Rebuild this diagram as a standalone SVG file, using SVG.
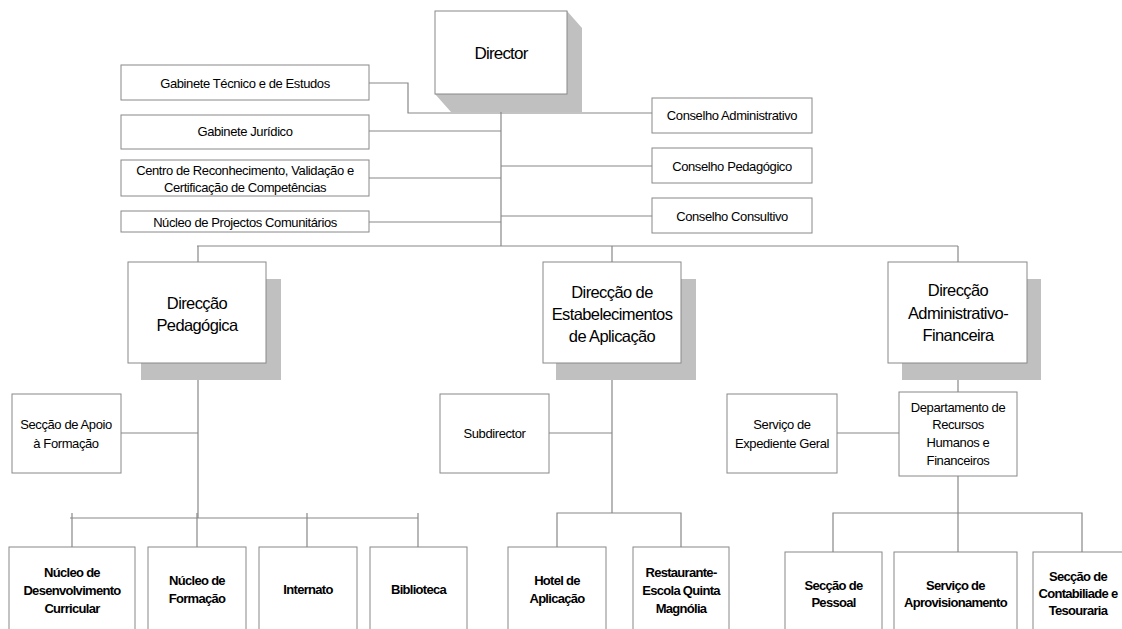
<svg xmlns="http://www.w3.org/2000/svg" width="1122" height="629" viewBox="0 0 1122 629">
<style>
.box{fill:#fff;stroke:#888;stroke-width:1}
.sh{fill:#c0c0c0;stroke:none}
.ln{fill:none;stroke:#888;stroke-width:1.2}
text{font-family:"Liberation Sans",Arial,sans-serif;fill:#000;text-anchor:middle}
.s{font-size:13px;letter-spacing:-0.4px}
.l{font-size:16.5px;letter-spacing:-0.6px}
.b{font-size:13px;font-weight:bold;letter-spacing:-0.7px}
.d{font-size:17px;letter-spacing:-0.8px}
</style>
<rect width="1122" height="629" fill="#fff"/>
<g id="connectors">
<line class="ln" x1="501" y1="94" x2="501" y2="246"/>
<polyline class="ln" points="369,83 408,83 408,113 652,113"/>
<line class="ln" x1="369" y1="131" x2="501" y2="131"/>
<line class="ln" x1="501" y1="166" x2="652" y2="166"/>
<line class="ln" x1="369" y1="178" x2="501" y2="178"/>
<line class="ln" x1="501" y1="216" x2="652" y2="216"/>
<line class="ln" x1="369" y1="222" x2="501" y2="222"/>
<line class="ln" x1="197" y1="246" x2="958" y2="246"/>
<line class="ln" x1="198" y1="246" x2="198" y2="262"/>
<line class="ln" x1="612" y1="246" x2="612" y2="262"/>
<line class="ln" x1="958" y1="246" x2="958" y2="262"/>
<line class="ln" x1="198" y1="363" x2="198" y2="518"/>
<line class="ln" x1="121" y1="433" x2="198" y2="433"/>
<line class="ln" x1="70" y1="518" x2="418" y2="518"/>
<line class="ln" x1="72" y1="513" x2="72" y2="547"/>
<line class="ln" x1="197" y1="513" x2="197" y2="547"/>
<line class="ln" x1="307" y1="513" x2="307" y2="547"/>
<line class="ln" x1="418" y1="513" x2="418" y2="547"/>
<line class="ln" x1="612" y1="363" x2="612" y2="513"/>
<line class="ln" x1="549" y1="433" x2="612" y2="433"/>
<polyline class="ln" points="557,547 557,513 681,513 681,547"/>
<line class="ln" x1="958" y1="363" x2="958" y2="392"/>
<line class="ln" x1="837" y1="433" x2="899" y2="433"/>
<line class="ln" x1="958" y1="476" x2="958" y2="552"/>
<polyline class="ln" points="833,552 833,513 1082,513 1082,552"/>
</g>
<g id="director">
<polygon class="sh" points="567,11 582,28 582,112 451,112 435,94 567,94"/>
<rect class="box" x="435" y="11" width="132" height="83"/>
<text class="d" x="501" y="59">Director</text>
</g>
<g id="gab-tecnico">
<rect class="box" x="121" y="65" width="248" height="35"/>
<text class="s" x="245" y="87.5">Gabinete Técnico e de Estudos</text>
</g>
<g id="gab-juridico">
<rect class="box" x="121" y="115" width="248" height="34"/>
<text class="s" x="245" y="135.5">Gabinete Jurídico</text>
</g>
<g id="centro">
<rect class="box" x="121" y="160" width="248" height="36"/>
<text class="s" x="245" y="174.5">Centro de Reconhecimento, Validação e</text>
<text class="s" x="245" y="191.5">Certificação de Competências</text>
</g>
<g id="nucleo-projectos">
<rect class="box" x="121" y="211" width="248" height="21"/>
<text class="s" x="245" y="226.5">Núcleo de Projectos Comunitários</text>
</g>
<g id="cons-admin">
<rect class="box" x="652" y="98" width="160" height="35"/>
<text class="s" x="732" y="120">Conselho Administrativo</text>
</g>
<g id="cons-ped">
<rect class="box" x="652" y="148" width="160" height="35"/>
<text class="s" x="732" y="170.5">Conselho Pedagógico</text>
</g>
<g id="cons-consultivo">
<rect class="box" x="652" y="198" width="160" height="35"/>
<text class="s" x="732" y="220.5">Conselho Consultivo</text>
</g>
<g id="dir-pedagogica">
<rect class="sh" x="141" y="279" width="140" height="101"/>
<rect class="box" x="128" y="262" width="138" height="101"/>
<text class="l" x="197" y="309">Direcção</text>
<text class="l" x="197" y="331">Pedagógica</text>
</g>
<g id="dir-estab">
<rect class="sh" x="556" y="279" width="140" height="101"/>
<rect class="box" x="543" y="262" width="138" height="101"/>
<text class="l" x="612" y="298">Direcção de</text>
<text class="l" x="612" y="320">Estabelecimentos</text>
<text class="l" x="612" y="342">de Aplicação</text>
</g>
<g id="dir-admfin">
<rect class="sh" x="902" y="279" width="139" height="101"/>
<rect class="box" x="888" y="262" width="139" height="101"/>
<text class="l" x="958" y="296">Direcção</text>
<text class="l" x="958" y="319">Administrativo-</text>
<text class="l" x="958" y="341">Financeira</text>
</g>
<g id="apoio">
<rect class="box" x="12" y="394" width="109" height="79"/>
<text class="s" x="66" y="428.5">Secção de Apoio</text>
<text class="s" x="66" y="447.5">à Formação</text>
</g>
<g id="subdirector">
<rect class="box" x="440" y="394" width="109" height="79"/>
<text class="s" x="494.5" y="437.5">Subdirector</text>
</g>
<g id="expediente">
<rect class="box" x="727" y="394" width="110" height="79"/>
<text class="s" x="782" y="428.5">Serviço de</text>
<text class="s" x="782" y="447.5">Expediente Geral</text>
</g>
<g id="departamento">
<rect class="box" x="899" y="392" width="118" height="84"/>
<text class="s" x="958" y="411.5">Departamento de</text>
<text class="s" x="958" y="428.5">Recursos</text>
<text class="s" x="958" y="446.5">Humanos e</text>
<text class="s" x="958" y="464.5">Financeiros</text>
</g>
<g id="nucleo-desenv">
<rect class="box" x="9" y="547" width="126" height="95"/>
<text class="b" x="72" y="576.5">Núcleo de</text>
<text class="b" x="72" y="594.5">Desenvolvimento</text>
<text class="b" x="72" y="612.5">Curricular</text>
</g>
<g id="nucleo-formacao">
<rect class="box" x="148" y="547" width="98" height="95"/>
<text class="b" x="197" y="584.5">Núcleo de</text>
<text class="b" x="197" y="602.5">Formação</text>
</g>
<g id="internato">
<rect class="box" x="259" y="547" width="98" height="95"/>
<text class="b" x="308" y="593.5">Internato</text>
</g>
<g id="biblioteca">
<rect class="box" x="370" y="547" width="97" height="95"/>
<text class="b" x="418.5" y="593.5">Biblioteca</text>
</g>
<g id="hotel">
<rect class="box" x="508" y="547" width="98" height="95"/>
<text class="b" x="557" y="584.5">Hotel de</text>
<text class="b" x="557" y="602.5">Aplicação</text>
</g>
<g id="restaurante">
<rect class="box" x="633" y="547" width="96" height="95"/>
<text class="b" x="681" y="576.5">Restaurante-</text>
<text class="b" x="681" y="594.5">Escola Quinta</text>
<text class="b" x="681" y="612.5">Magnólia</text>
</g>
<g id="pessoal">
<rect class="box" x="785" y="552" width="97" height="90"/>
<text class="b" x="833.5" y="589.5">Secção de</text>
<text class="b" x="833.5" y="606.5">Pessoal</text>
</g>
<g id="aprovisionamento">
<rect class="box" x="894" y="552" width="123" height="90"/>
<text class="b" x="955.5" y="589.5">Serviço de</text>
<text class="b" x="955.5" y="606.5">Aprovisionamento</text>
</g>
<g id="contabilidade">
<rect class="box" x="1033" y="552" width="100" height="90"/>
<text class="b" x="1078" y="580.5">Secção de</text>
<text class="b" x="1078" y="597.5">Contabiliade e</text>
<text class="b" x="1078" y="614.5">Tesouraria</text>
</g>
</svg>
